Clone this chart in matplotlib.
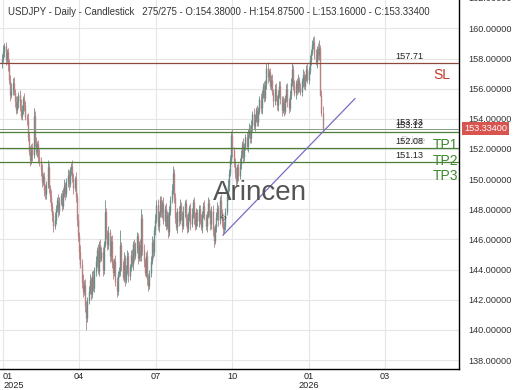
import numpy as np
import matplotlib.pyplot as plt
import matplotlib.transforms as mtransforms

plt.rcParams['font.family'] = ['Liberation Sans', 'DejaVu Sans']

# zamkniecia dzienne (275 swiec)
closes = [
    158.0, 158.5, 158.8, 157.9, 158.4, 157.6,
    156.6, 155.6, 155.9,
    156.4, 155.8, 155.2, 154.6, 155.1, 155.6, 154.8, 154.2, 154.6,
    155.3, 154.9, 154.1, 153.9,
    152.8, 151.8, 151.3,
    152.0, 151.6, 154.2, 152.4,
    151.8, 152.3, 151.5, 151.2,
    150.6, 149.8, 150.2, 149.3, 149.0,
    149.6, 150.8, 149.4, 148.9,
    148.2, 147.6, 146.9, 147.3,
    148.0, 148.6, 147.9, 148.5, 148.9, 148.2,
    149.1, 149.6, 149.0, 149.8, 150.3, 149.7, 150.6, 150.9,
    150.1, 149.4, 150.0,
    148.8, 147.3, 146.2, 145.2,
    144.4, 143.2, 142.5, 143.0,
    141.6, 140.8, 142.0,
    142.6, 143.3, 142.4, 143.6, 142.8, 143.9,
    144.6, 145.3, 143.9, 145.6,
    144.8, 145.2, 144.0, 145.7,
    147.8, 146.3,
    145.6, 146.5, 144.9, 145.9,
    144.4, 143.8, 144.6, 143.2, 142.6, 143.7,
    143.9, 145.6, 144.3, 143.5, 144.8, 143.3, 144.0, 144.9, 143.6, 144.2,
    145.0, 144.4, 145.7, 144.9, 145.4, 146.2, 144.8, 145.6, 144.9,
    147.4,
    145.3, 144.6, 143.8, 144.9, 143.4, 142.9, 143.8,
    144.6, 145.8, 145.2, 146.6,
    147.3, 148.3, 146.9, 147.7, 148.6,
    147.8, 148.4, 147.2, 148.0,
    146.9, 147.6, 146.5, 147.9,
    148.6, 149.3, 150.4, 148.8,
    147.4, 146.8, 147.9, 147.2, 148.3, 147.6, 146.9, 147.8, 148.4, 147.3, 146.7,
    147.5, 148.1, 147.0, 147.7, 148.5, 147.4, 146.9, 147.8, 147.2, 148.0,
    147.3, 146.8, 147.7, 148.2, 147.5, 146.9, 147.6, 148.4, 147.8, 147.0, 147.9, 146.6, 145.9, 146.8,
    147.5, 148.1, 147.3, 148.6, 147.8, 147.1, 146.7, 146.9,
    147.8, 148.9, 149.6, 150.4,
    151.3, 152.9, 151.9, 151.1,
    150.4, 149.9, 150.8, 150.2, 151.0,
    151.6, 152.3, 151.5, 152.1, 152.8, 152.2, 152.9, 153.4, 152.7,
    153.6, 154.3, 153.5, 154.0, 154.6, 153.8,
    154.5, 155.3, 154.7, 155.6, 156.2, 155.4,
    156.3, 157.4, 156.8, 157.1, 156.2,
    156.6, 155.8, 155.2, 156.0, 155.4, 154.9, 155.6, 156.2,
    155.3, 154.6, 155.1, 154.5, 155.4, 156.0, 155.2, 154.7, 155.6,
    156.4, 157.3,
    156.2, 155.7, 156.4, 155.9, 156.6, 156.1,
    155.8, 156.5, 156.9, 156.2, 156.8, 157.3, 156.6, 157.2,
    157.9, 158.4, 158.9, 159.1,
    158.3, 157.8, 158.6, 158.2,
    158.7, 155.6, 154.38, 153.334,
]
first_open = 157.7

# gorny i dolny knot ponad korpus swiecy
wick_up = [
    .3, .4, .2, .3, .2, .3,
    .4, .3, .5,
    .3, .4, .2, .3, .4, .2, .3, .5, .3,
    .2, .4, .3, .2,
    .5, .3, .4,
    .3, .4, .5, .3,
    .4, .2, .3, .5,
    .3, .4, .2, .3, .4,
    .3, .45, .3, .2,
    .4, .3, .3, .5,
    .3, .2, .4, .3, .2, .4,
    .3, .4, .2, .3, .4, .3, .2, .2,
    .4, .3, .2,
    .5, .3, .4, .3,
    .4, .3, .5, .3,
    .4, .3, .2,
    .3, .4, .2, .3, .4, .3,
    .3, .2, .4, .3,
    .4, .3, .3, .2,
    .8, .3,
    .3, .4, .2, .3,
    .4, .3, .2, .4, .3, .2,
    .3, 1.0, .2, .3, .4, .2, .3, .4, .3, .2,
    .3, .4, .2, .3, .4, .3, .2, .3, .4,
    .6,
    .3, .4, .2, .3, .4, .3, .2,
    .3, .4, .2, .3,
    .4, .3, .4, .2, .3,
    .3, .2, .4, .3,
    .4, .3, .2, .3,
    .3, .4, .5, .3,
    .3, .4, .2, .3, .4, .2, .3, .4, .2, .3, .4,
    .3, .2, .3, .4, .2, .3, .4, .3, .2, .3,
    .3, .4, .2, .3, .4, .2, .3, .4, .3, .2, .3, .4, .3, .2,
    .3, .4, .2, .3, .4, .2, .3, .3,
    .3, .2, .4, .3,
    .3, .3, .4, .2,
    .3, .4, .2, .3, .4,
    .3, .2, .4, .3, .2, .3, .4, .3, .2,
    .3, .2, .4, .3, .2, .3,
    .3, .2, .4, .3, .2, .3,
    .3, .3, .4, .2, .3,
    .3, .4, .2, .3, .4, .2, .3, .3,
    .3, .2, .4, .3, .2, .3, .4, .2, .3,
    .3, .4,
    .3, .4, .2, .3, .4, .2,
    .3, .2, .4, .3, .2, .3, .4, .3,
    .3, .2, .3, .3,
    .4, .3, .2, .4,
    .5, .2, .3, .495,
]
wick_dn = [
    .3, .2, .4, .3, .2, .4,
    .3, .4, .2,
    .3, .2, .4, .3, .2, .4, .3, .2, .3,
    .3, .4, .2, .3,
    .3, .2, .4,
    .3, .4, .2, .3,
    .2, .3, .4, .3,
    .4, .3, .2, .4, .3,
    .3, .2, .3, .4,
    .3, .4, .4, .2,
    .3, .2, .4, .3, .2, .3,
    .2, .3, .4, .2, .3, .4, .2, .3,
    .3, .4, .2,
    .3, .4, .3, .5,
    .3, .4, .3, .2,
    .4, .8, .3,
    .3, .2, .4, .3, .2, .3,
    .3, .4, .2, .3,
    .3, .2, .4, .3,
    .2, .3,
    .3, .2, .4, .3,
    .3, .4, .2, .3, .4, .3,
    .2, .3, .4, .2, .3, .4, .2, .3, .4, .3,
    .3, .2, .4, .3, .2, .3, .4, .2, .3,
    .3,
    .3, .4, .2, .3, .4, .3, .2,
    .3, .2, .4, .3,
    .3, .2, .3, .4, .2,
    .3, .4, .2, .3,
    .3, .2, .4, .3,
    .3, .2, .3, .4,
    .3, .2, .4, .3, .2, .3, .4, .2, .3, .4, .3,
    .2, .3, .4, .2, .3, .4, .3, .2, .3, .4,
    .3, .2, .4, .3, .2, .3, .4, .2, .3, .4, .3, .4, .4, .2,
    .3, .2, .4, .3, .2, .3, .4, .3,
    .3, .2, .3, .4,
    .2, .3, .4, .3,
    .3, .4, .2, .3, .2,
    .3, .2, .4, .3, .2, .3, .4, .2, .3,
    .3, .4, .2, .3, .2, .3,
    .3, .2, .3, .4, .2, .3,
    .2, .3, .4, .3, .2,
    .3, .2, .4, .3, .2, .3, .4, .2,
    .3, .4, .2, .3, .2, .3, .4, .3, .2,
    .3, .2,
    .3, .2, .4, .3, .2, .3,
    .2, .3, .4, .2, .3, .3, .2, .3,
    .2, .3, .2, .3,
    .3, .2, .4, .3,
    .3, .1, .2, .174,
]

if not (len(closes) == len(wick_up) == len(wick_dn) == 275):
    raise SystemExit(f"zla dlugosc: {len(closes)} {len(wick_up)} {len(wick_dn)}")

# poziomy: cena, etykieta ceny, kolor
levels = [157.71, 153.33, 153.12, 152.08, 151.13]
level_text = ["157.71", "153.33", "153.12", "152.08", "151.13"]
level_color = ['#8a4a3c', '#8a9a88', '#4d7f3a', '#4d7f3a', '#4d7f3a']
tags = ["SL", "TP1", "TP2", "TP3"]
tag_price = [156.9, 152.26, 151.2, 150.2]
tag_color = ['#c0392b', '#3e8a2e', '#3e8a2e', '#3e8a2e']

trend_x = [188.9, 301.7]
trend_y = [146.29, 155.34]

tick_pos = [0.85, 65.8, 131.6, 196.6, 262.4, 327.4]
tick_lab = ["01\n2025", "04", "07", "10", "01\n2026", "03"]

last_price = 153.334

c = np.array(closes)
o = np.r_[first_open, c[:-1]]
hi = np.maximum(o, c) + np.array(wick_up)
lo = np.minimum(o, c) - np.array(wick_dn)
x = np.arange(len(c))
up = c >= o

fig = plt.figure(figsize=(5.2, 3.9), dpi=100)
ax = fig.add_axes([0, 21/390, 459/520, 369/390])

col_up, col_dn = '#688c88', '#b88080'
cols = np.where(up, col_up, col_dn)
ax.vlines(x, lo, hi, colors=cols, linewidth=0.6, zorder=3)
ax.vlines(x, np.minimum(o, c), np.maximum(o, c), colors=cols, linewidth=1.0, zorder=3)

ax.set_xlim(-1.71, 390.6)
ax.set_ylim(137.41, 161.88)

# linie poziomow
trans = mtransforms.blended_transform_factory(ax.transAxes, ax.transData)
for p, t, col in zip(levels, level_text, level_color):
    ax.axhline(p, color=col, linewidth=0.9 if col != '#8a9a88' else 0.7, zorder=4)
    ax.text(0.861, p + 0.12, t, transform=trans, fontsize=6.6, color='#222222',
            va='bottom', ha='left', zorder=5)
ax.text(0.872, 152.5, "Price", transform=trans, fontsize=8, color='#999999',
        alpha=0.5, va='center', ha='left')
for t, p, col in zip(tags, tag_price, tag_color):
    ax.text(0.943, p, t, transform=trans, fontsize=10, color=col,
            va='center', ha='left', zorder=5)

ax.plot(trend_x, trend_y, color='#7a6cc4', linewidth=0.9, zorder=4)

ax.text(0.566, 149.1, "Arincen", transform=trans, fontsize=20, color='#555555',
        va='center', ha='center', zorder=6)
ax.text(190.5, 147.4, "S", fontsize=6, color='#333333', rotation=45,
        ha='center', va='center', zorder=6)

# os y po prawej
yt = np.arange(138, 162, 2)
ax.set_yticks(yt)
ax.set_yticklabels([f"{v:.5f}" for v in yt])
ax.yaxis.tick_right()
ax.tick_params(axis='y', length=0, pad=6.5, labelsize=6.6, labelcolor='#333333')
ax.text(468/459, 162.0, "162.00000", transform=trans, fontsize=6.6, color='#333333',
        va='center', ha='left', clip_on=False)

ax.set_xticks(tick_pos)
ax.set_xticklabels(tick_lab, linespacing=0.95)
ax.tick_params(axis='x', length=0, pad=2.5, labelsize=6.6, labelcolor='#222222')
ax.get_xticklabels()[0].set_ha('left')

ax.grid(color='#e6e6e6', linewidth=0.8, zorder=0)
for s in ['top', 'left']:
    ax.spines[s].set_visible(False)
ax.spines['right'].set_color('black')
ax.spines['bottom'].set_color('black')
ax.spines['right'].set_linewidth(1.0)
ax.spines['bottom'].set_linewidth(1.0)

# ramka z ostatnia cena
ax.text(464/459, last_price, f"{last_price:.5f}", transform=trans, fontsize=6.6,
        color='white', va='center', ha='left', clip_on=False,
        bbox=dict(facecolor='#d9534f', edgecolor='none', pad=1.5))

fig.text(8/520, 1 - 12/390,
         "USDJPY - Daily - Candlestick   275/275 - O:154.38000 - H:154.87500 - L:153.16000 - C:153.33400",
         fontsize=6.9, color='#333333', va='center', ha='left')

fig.savefig("out.png", dpi=100)
